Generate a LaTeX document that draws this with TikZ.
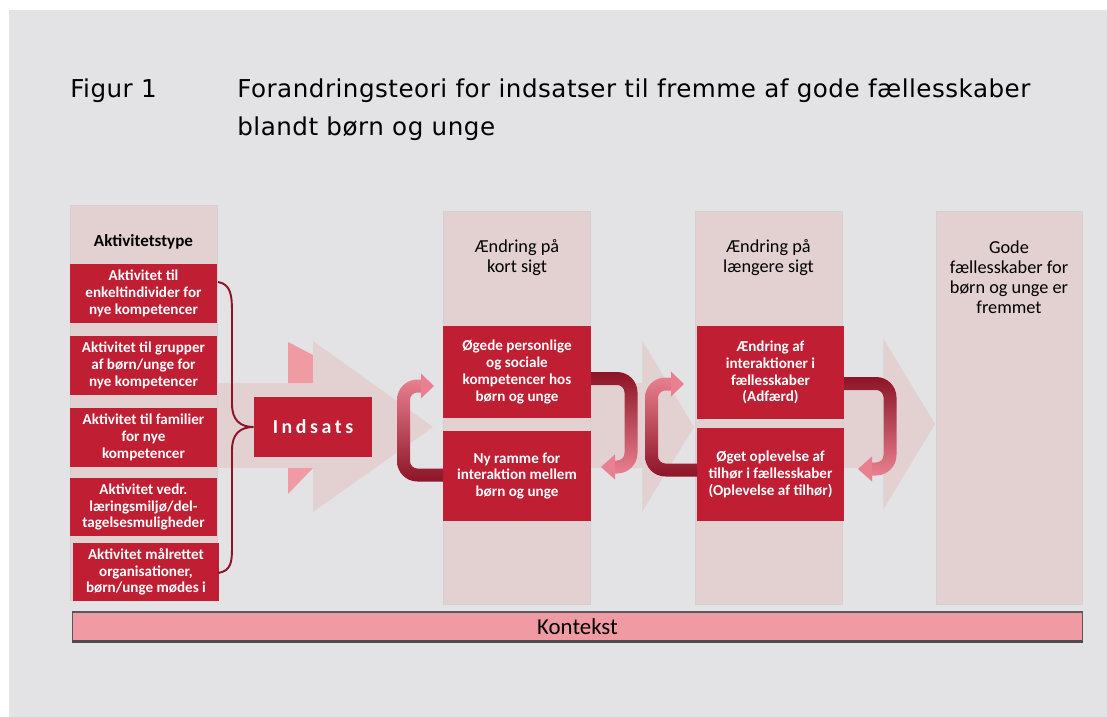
\documentclass[tikz,border=0pt]{standalone}
\definecolor{baggrund}{RGB}{227,227,229}
\definecolor{kolonne}{RGB}{227,209,209}
\definecolor{roed}{RGB}{192,30,50}
\definecolor{lyserod}{RGB}{240,155,163}
\definecolor{pilmoerk}{RGB}{140,20,38}
\definecolor{pillys}{RGB}{232,128,143}
\usepackage{fontspec}
\setmainfont{Carlito}
\newfontfamily\titelfont[LetterSpace=2]{DejaVu Sans}
\newfontfamily\spacedfont[LetterSpace=18]{Carlito}
\usepackage{tikz}

% Returpil op: #1 lodret ben, #2 øverste ben, #3 nederste ben, #4 pilens start, #5 boksens kant
\newcommand{\pilop}[5]{%
  \begin{scope}
    \clip (#1-30,#2-20) -- (#4,#2-20) -- (#4,{(#2+#3)/2}) -- (#5,{(#2+#3)/2}) -- (#5,#3+20) -- (#1-30,#3+20) -- cycle;
    \shade[even odd rule, top color=pillys, bottom color=pilmoerk]
      [rounded corners=11.6pt] (#1-6.5,#2-6.5) rectangle (#5+30,#3+6.5)
      [rounded corners=4.2pt] (#1+6.5,#2+6.5) rectangle (#5+30,#3-6.5);
  \end{scope}
  \fill[pillys] (#4,#2-12.5) -- (#4+13,#2) -- (#4,#2+12.5) -- cycle;
}
% Returpil ned: #1 lodret ben, #2 øverste ben, #3 nederste ben, #4 boksens kant, #5 pilens start
\newcommand{\pilned}[5]{%
  \begin{scope}
    \clip (#4,#2-20) -- (#1+30,#2-20) -- (#1+30,#3+20) -- (#5,#3+20) -- (#5,{(#2+#3)/2}) -- (#4,{(#2+#3)/2}) -- cycle;
    \shade[even odd rule, top color=pilmoerk, bottom color=pillys]
      [rounded corners=11.6pt] (#4-30,#2-6.5) rectangle (#1+6.5,#3+6.5)
      [rounded corners=4.2pt] (#4-30,#2+6.5) rectangle (#1-6.5,#3-6.5);
  \end{scope}
  \fill[pillys] (#5,#3-12.5) -- (#5-14,#3) -- (#5,#3+12.5) -- cycle;
}

\begin{document}
\begin{tikzpicture}[x=0.02cm, y=-0.02cm,
    aktboks/.style={rectangle, fill=roed, text=white, align=center, inner sep=0pt,
      font=\bfseries\fontsize{8.6}{9.5}\selectfont, minimum width=2.94cm, minimum height=1.18cm},
    effektboks/.style={aktboks, minimum width=2.96cm},
    kolhoved/.style={align=center, font=\fontsize{10.4}{11.3}\selectfont},
    titel/.style={anchor=base west, inner sep=0pt, font=\titelfont\fontsize{14}{17}\selectfont},
    kolonnefelt/.style={fill=kolonne, draw=black!18, line width=0.4pt}]

    \useasboundingbox (0,0) rectangle (1107,717);
    \fill[white] (0,0) rectangle (1107,717);
    \fill[baggrund] (9,10) rectangle (1107,717);

    % Overskrift
    \node[titel] (figur) at (70,97) {Figur 1};
    \node[titel] (titel1) at (237,97) {Forandringsteori for indsatser til fremme af gode fællesskaber};
    \node[titel] (titel2) at (237,135) {blandt børn og unge};

    % Bånd og store pile i baggrunden
    \fill[kolonne] (217,383) rectangle (313,468);
    \fill[kolonne] (590,383) rectangle (642,468);
    \fill[kolonne] (842,380) rectangle (883,468);
    \fill[lyserod] (288,342) -- (313,355) -- (313,383) -- (288,383) -- cycle;
    \fill[lyserod] (288,468) -- (313,468) -- (288,494) -- cycle;
    \fill[kolonne] (313,341) -- (433,427) -- (313,512) -- cycle;
    \fill[kolonne] (642,340) -- (694,427) -- (642,512) -- cycle;
    \draw[black!15, line width=0.4pt] (642,340) -- (642,512);
    \fill[kolonne] (883,338) -- (935,424) -- (883,510) -- cycle;
    \draw[black!15, line width=0.4pt] (883,338) -- (883,510);

    % Kolonner
    \draw[kolonnefelt] (70,205) rectangle (217,600);
    \draw[kolonnefelt] (443,211) rectangle (590,604);
    \draw[kolonnefelt] (695,211) rectangle (842,604);
    \draw[kolonnefelt] (936,211) rectangle (1082,604);

    \node[kolhoved, font=\bfseries\fontsize{9.7}{11}\selectfont] (akttype) at (143.5,242) {Aktivitetstype};
    \node[kolhoved] (kort) at (517,258) {Ændring på\\kort sigt};
    \node[kolhoved] (laengere) at (768.5,258) {Ændring på\\længere sigt};
    \node[kolhoved] (gode) at (1009,277) {Gode\\fællesskaber for\\børn og unge er\\fremmet};

    % Aktiviteter
    \foreach \nr/\x/\y/\tekst in {
        1/143.5/293.5/{Aktivitet til\\enkeltindivider for\\nye kompetencer},
        2/143.5/365.5/{Aktivitet til grupper\\af børn/unge for\\nye kompetencer},
        3/143.5/437.5/{Aktivitet til familier\\for nye\\kompetencer},
        4/143.5/507/{Aktivitet vedr.\\læringsmiljø/del-\\tagelsesmuligheder},
        5/146/572/{Aktivitet målrettet\\organisationer,\\børn/unge mødes i}} {
        \node[aktboks] (akt\nr) at (\x,\y) {\tekst};
    }

    % Indsats
    \node[aktboks, minimum width=2.36cm, minimum height=1.2cm,
      font=\spacedfont\bfseries\fontsize{11.3}{12}\selectfont] (indsats) at (313,427) {Indsats};

    % Klamme fra aktiviteterne til indsatsen
    \coordinate (klammetop) at (218,282);
    \coordinate (klammebund) at (218,573);
    \draw[pilmoerk, line width=1.1pt] (klammetop) .. controls (231,284) and (232,296) .. (232,312)
      -- (232,404) .. controls (232,420) and (240,427) .. (indsats.west)
      .. controls (240,427) and (232,434) .. (232,450)
      -- (232,548) .. controls (232,562) and (231,571) .. (klammebund);

    % Ændringer
    \node[effektboks, minimum height=1.84cm] (oegede) at (517,372) {Øgede personlige\\og sociale\\kompetencer hos\\børn og unge};
    \node[effektboks, minimum height=1.8cm] (ramme) at (517,476) {Ny ramme for\\interaktion mellem\\børn og unge};
    \node[effektboks, minimum height=1.86cm] (adfaerd) at (770.5,372.5) {Ændring af\\interaktioner i\\fællesskaber\\(Adfærd)};
    \node[effektboks, minimum height=1.86cm] (tilhoer) at (770.5,474.5) {Øget oplevelse af\\tilhør i fællesskaber\\(Oplevelse af tilhør)};

    % Returpile
    \pilop{403.5}{386}{475}{421}{443}
    \pilned{631}{378.5}{467}{591}{615}
    \pilop{651.5}{384}{470}{671}{697}
    \pilned{890}{383.5}{469}{844}{872}

    % Kontekst
    \node[fill=lyserod, draw=black!65, line width=0.6pt, minimum width=20.22cm, minimum height=0.58cm,
      inner sep=0pt, font=\fontsize{13}{14}\selectfont] (kontekst) at (577.5,626.5) {Kontekst};
    \draw[black!70, line width=1.3pt] (kontekst.south west) -- (kontekst.south east);
\end{tikzpicture}
\end{document}
